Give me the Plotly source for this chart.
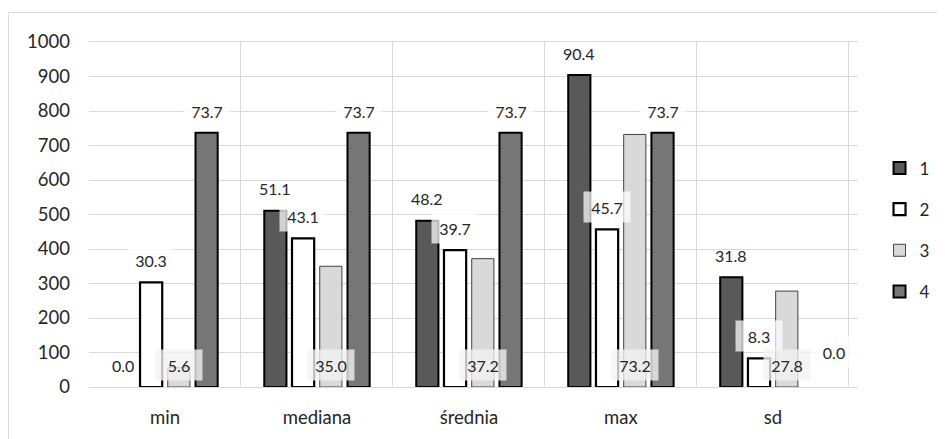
import plotly.graph_objects as go

# ---------------- data ----------------
categories = ["min", "mediana", "średnia", "max", "sd"]
series_names = ["1", "2", "3", "4"]

s1_values = [0, 511, 482, 904, 318]
s2_values = [303, 431, 397, 457, 83]
s3_values = [56, 350, 372, 732, 278]
s4_values = [737, 737, 737, 737, 0]

s1_labels = ["0.0", "51.1", "48.2", "90.4", "31.8"]
s2_labels = ["30.3", "43.1", "39.7", "45.7", "8.3"]
s3_labels = ["5.6", "35.0", "37.2", "73.2", "27.8"]
s4_labels = ["73.7", "73.7", "73.7", "73.7", "0.0"]

y_ticks = [0, 100, 200, 300, 400, 500, 600, 700, 800, 900, 1000]

# ---------------- style ----------------
# the page body has an 8px margin, so the figure is drawn 8px smaller
W, H = 937, 431
M_L, M_R, M_T, M_B = 81, 87, 34, 52
BARGAP, BARGROUPGAP = 0.27, 0.2
FONT = "Lato"
TXT = "#262626"
GRID = "#d9d9d9"

series_values = [s1_values, s2_values, s3_values, s4_values]
series_labels = [s1_labels, s2_labels, s3_labels, s4_labels]
fills = ["#595959", "#ffffff", "#d9d9d9", "#767676"]
lines = ["#000000", "#000000", "#404040", "#000000"]
line_w = [2, 2.2, 1, 2]
label_mode = ["outside", "outside", "base", "outside"]
label_bg = [None, "rgba(255,255,255,0.72)", "rgba(242,242,242,0.78)", "rgba(255,255,255,0.8)"]
label_nudge = {(3, 4): (19, 13)}  # series index, category index -> extra px shift

fig = go.Figure()
for i, name in enumerate(series_names):
    fig.add_trace(go.Bar(
        x=categories,
        # zero-height bars are not drawn (no outline stub at the baseline)
        y=[v if v else None for v in series_values[i]],
        name=name, legendgroup=name,
        marker=dict(color=fills[i], line=dict(color=lines[i], width=line_w[i])),
        hoverinfo="skip",
    ))

plot_w = W - M_L - M_R
plot_h = H - M_T - M_B
n = len(series_names)
pitch = plot_w / len(categories) * (1 - BARGAP) / n

annotations = []
for i in range(n):
    for j, cat in enumerate(categories):
        dx, dy = label_nudge.get((i, j), (0, 0))
        yv = series_values[i][j] if label_mode[i] == "outside" else 0
        ann = dict(
            x=cat, y=yv, xref="x", yref="y", text=series_labels[i][j],
            showarrow=False, xanchor="center", yanchor="middle",
            xshift=(i - (n - 1) / 2) * pitch + dx, yshift=22 + dy,
            font=dict(family=FONT, size=16, color=TXT),
        )
        if label_bg[i]:
            ann.update(bgcolor=label_bg[i], width=46, height=30, borderpad=0)
        annotations.append(ann)

fig.update_layout(
    width=W, height=H,
    margin=dict(l=M_L, r=M_R, t=M_T, b=M_B, autoexpand=False),
    paper_bgcolor="white", plot_bgcolor="white",
    barmode="group", bargap=BARGAP, bargroupgap=BARGROUPGAP,
    font=dict(family=FONT, color=TXT),
    annotations=annotations,
    showlegend=True,
    legend=dict(
        x=1.028, y=0.455, xanchor="left", yanchor="middle",
        font=dict(family=FONT, size=17, color=TXT),
        tracegroupgap=16, traceorder="grouped", bgcolor="rgba(0,0,0,0)",
    ),
    shapes=[dict(
        type="rect", xref="paper", yref="paper",
        x0=(0.5 - M_L) / plot_w, x1=1.3,
        y0=-0.3, y1=(H - M_B - 4.5) / plot_h,
        line=dict(color=GRID, width=1), fillcolor="rgba(0,0,0,0)", layer="below",
    )],
)
fig.update_xaxes(
    type="category", tickson="boundaries", showgrid=True, gridcolor=GRID, gridwidth=1,
    ticks="", tickfont=dict(family=FONT, size=18.5, color=TXT), ticklabelstandoff=14,
    showline=True, linecolor=GRID, linewidth=1, mirror=True, zeroline=False,
)
fig.update_yaxes(
    range=[0, 1000], tickvals=y_ticks, showgrid=True, gridcolor=GRID, gridwidth=1,
    tickfont=dict(family=FONT, size=18.5, color=TXT), ticklabelstandoff=18,
    zeroline=False, showline=False, ticks="",
)

fig.write_html("out.html")
